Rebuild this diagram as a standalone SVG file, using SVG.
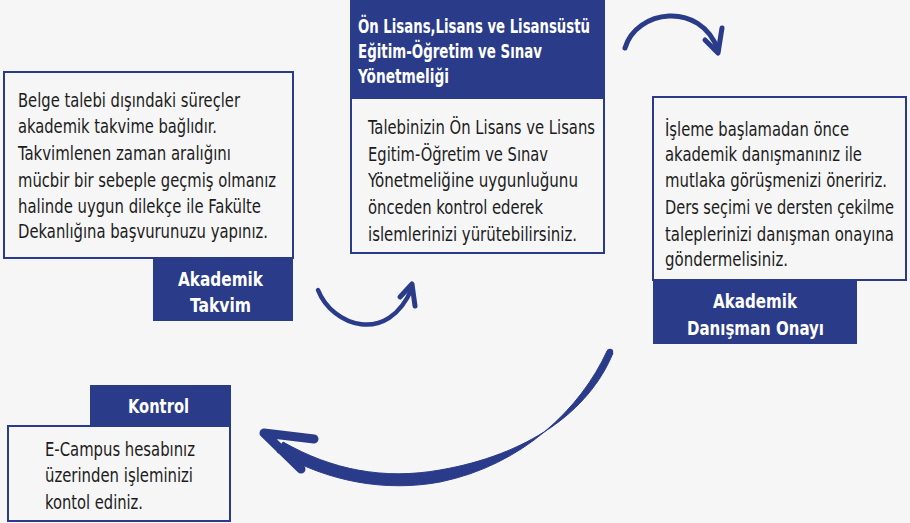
<svg xmlns="http://www.w3.org/2000/svg" width="910" height="523" viewBox="0 0 910 523">
<style>
.bg{fill:#f6f6f6}
.box{fill:#f6f6f6;stroke:#2a3b89;stroke-width:2}
.lab{fill:#2a3b89}
.t{font-family:"Liberation Sans Narrow","DejaVu Sans Condensed","DejaVu Sans",sans-serif;font-size:20px;fill:#1c1c1c}
.h{font-family:"Liberation Sans Narrow","DejaVu Sans Condensed","DejaVu Sans",sans-serif;font-size:20px;font-weight:bold;fill:#ffffff}
.c{text-anchor:middle}
.arr{fill:none;stroke:#2a3b89;stroke-linecap:round;stroke-linejoin:round}
</style>
<rect class="bg" x="0" y="0" width="910" height="523"/>

<g id="akademik-takvim">
<rect class="box" x="4" y="72" width="289" height="186"/>
<rect class="lab" x="153" y="258" width="140" height="63"/>
<text class="t" x="18" y="107" textLength="222" lengthAdjust="spacingAndGlyphs">Belge talebi dışındaki süreçler</text>
<text class="t" x="18" y="133" textLength="199" lengthAdjust="spacingAndGlyphs">akademik takvime bağlıdır.</text>
<text class="t" x="18" y="160" textLength="213" lengthAdjust="spacingAndGlyphs">Takvimlenen zaman aralığını</text>
<text class="t" x="18" y="187" textLength="258" lengthAdjust="spacingAndGlyphs">mücbir bir sebeple geçmiş olmanız</text>
<text class="t" x="18" y="213" textLength="243" lengthAdjust="spacingAndGlyphs">halinde uygun dilekçe ile Fakülte</text>
<text class="t" x="18" y="238" textLength="250" lengthAdjust="spacingAndGlyphs">Dekanlığına başvurunuzu yapınız.</text>
<text class="h" x="178" y="286" textLength="85" lengthAdjust="spacingAndGlyphs">Akademik</text>
<text class="h" x="190" y="312" textLength="61" lengthAdjust="spacingAndGlyphs">Takvim</text>
</g>

<g id="yonetmelik">
<rect class="lab" x="350" y="0" width="255" height="98"/>
<rect class="box" x="351" y="98" width="253" height="155"/>
<text class="h" x="358" y="33" textLength="232" lengthAdjust="spacingAndGlyphs">Ön Lisans,Lisans ve Lisansüstü</text>
<text class="h" x="358" y="58" textLength="184" lengthAdjust="spacingAndGlyphs">Eğitim-Öğretim ve Sınav</text>
<text class="h" x="358" y="83" textLength="91" lengthAdjust="spacingAndGlyphs">Yönetmeliği</text>
<text class="t" x="368" y="134" textLength="227" lengthAdjust="spacingAndGlyphs">Talebinizin Ön Lisans ve Lisans</text>
<text class="t" x="368" y="161" textLength="180" lengthAdjust="spacingAndGlyphs">Egitim-Öğretim ve Sınav</text>
<text class="t" x="368" y="187" textLength="210" lengthAdjust="spacingAndGlyphs">Yönetmeliğine uygunluğunu</text>
<text class="t" x="368" y="214" textLength="175" lengthAdjust="spacingAndGlyphs">önceden kontrol ederek</text>
<text class="t" x="368" y="241" textLength="209" lengthAdjust="spacingAndGlyphs">islemlerinizi yürütebilirsiniz.</text>
</g>

<g id="danisman-onayi">
<rect class="box" x="653" y="97" width="253" height="183"/>
<rect class="lab" x="653" y="280" width="204" height="64"/>
<text class="t" x="665" y="136" textLength="184" lengthAdjust="spacingAndGlyphs">İşleme başlamadan önce</text>
<text class="t" x="665" y="161" textLength="197" lengthAdjust="spacingAndGlyphs">akademik danışmanınız ile</text>
<text class="t" x="665" y="187" textLength="222" lengthAdjust="spacingAndGlyphs">mutlaka görüşmenizi öneririz.</text>
<text class="t" x="665" y="214" textLength="229" lengthAdjust="spacingAndGlyphs">Ders seçimi ve dersten çekilme</text>
<text class="t" x="665" y="241" textLength="229" lengthAdjust="spacingAndGlyphs">taleplerinizi danışman onayına</text>
<text class="t" x="665" y="266" textLength="123" lengthAdjust="spacingAndGlyphs">göndermelisiniz.</text>
<text class="h" x="713" y="308" textLength="84" lengthAdjust="spacingAndGlyphs">Akademik</text>
<text class="h" x="687" y="335" textLength="137" lengthAdjust="spacingAndGlyphs">Danışman Onayı</text>
</g>

<g id="kontrol">
<rect class="lab" x="90" y="385" width="141" height="41"/>
<rect class="box" x="8" y="426" width="222" height="95"/>
<text class="h" x="128" y="413" textLength="61" lengthAdjust="spacingAndGlyphs">Kontrol</text>
<text class="t" x="45" y="456" textLength="150" lengthAdjust="spacingAndGlyphs">E-Campus hesabınız</text>
<text class="t" x="45" y="482" textLength="148" lengthAdjust="spacingAndGlyphs">üzerinden işleminizi</text>
<text class="t" x="45" y="509" textLength="98" lengthAdjust="spacingAndGlyphs">kontol ediniz.</text>
</g>

<g id="connectors">
<path class="arr" stroke-width="4.5" d="M318,290 C332,326 388,346 412,288"/>
<polyline class="arr" stroke-width="5" points="400,297 412,284 415,306"/>
<path class="arr" stroke-width="5" d="M625,48 C636,10 700,0 718,50"/>
<polyline class="arr" stroke-width="5" points="705,40 718,53 722,28"/>
<path fill="#2a3b89" stroke="#2a3b89" stroke-width="1" stroke-linejoin="round" d="M613,353 C589,412 527,455 440,470 C384,480 332,470 283,442 L277,452 C328,482 386,492 440,482 C523,465 581,408 607,351 Z"/>
<circle cx="610" cy="352" r="3.2" fill="#2a3b89"/>
<polyline class="arr" stroke-width="9" points="314,439 264,433 301,469"/>
</g>
</svg>
